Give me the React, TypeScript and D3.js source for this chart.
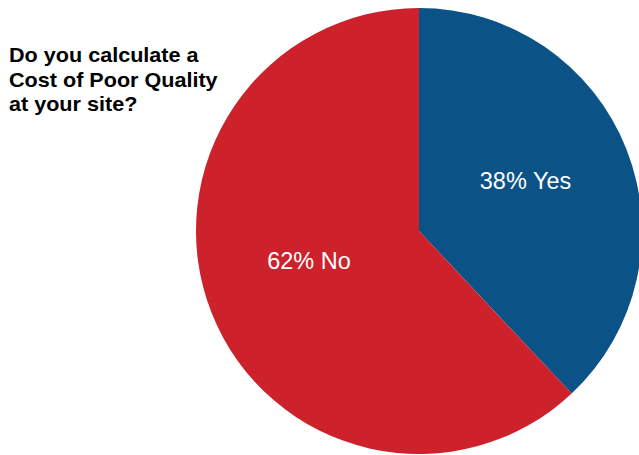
import React from "react";
import * as d3 from "d3";

const categories = ["Yes", "No"];
const values = [38, 62];
const colors = ["#0B5287", "#CD212B"];
const titleLines = ["Do you calculate a", "Cost of Poor Quality", "at your site?"];

const W = 639;
const H = 455;
const cx = 419;
const cy = 231;
const R = 223;

export default function App() {
  const pie = d3.pie<number>().sort(null).value((d) => d);
  const arcs = pie(values);
  const arc = d3.arc<d3.PieArcDatum<number>>().innerRadius(0).outerRadius(R);
  const labelPos = [
    [525.5 - cx, 181 - cy],
    [309 - cx, 261 - cy],
  ];
  return (
    <svg
      width={W}
      height={H}
      style={{ position: "absolute", left: 0, top: 0, background: "#fff" }}
    >
      <g transform={`translate(${cx},${cy})`}>
        {arcs.map((a, i) => (
          <path key={i} d={arc(a) || ""} fill={colors[i]} />
        ))}
        {arcs.map((a, i) => (
          <text
            key={"t" + i}
            x={labelPos[i][0]}
            y={labelPos[i][1]}
            textAnchor="middle"
            dominantBaseline="central"
            fill="#fff"
            fontFamily="Liberation Sans, Arial, sans-serif"
            fontSize={23.5}
          >
            {`${values[i]}% ${categories[i]}`}
          </text>
        ))}
      </g>
      <g transform="translate(9,0) scale(1.08,1)">
        {titleLines.map((t, i) => (
          <text
            key={i}
            x={0}
            y={62.5 + i * 24.5}
            fontFamily="Liberation Sans, Arial, sans-serif"
            fontWeight="bold"
            fontSize={20}
            fill="#000"
          >
            {t}
          </text>
        ))}
      </g>
    </svg>
  );
}
